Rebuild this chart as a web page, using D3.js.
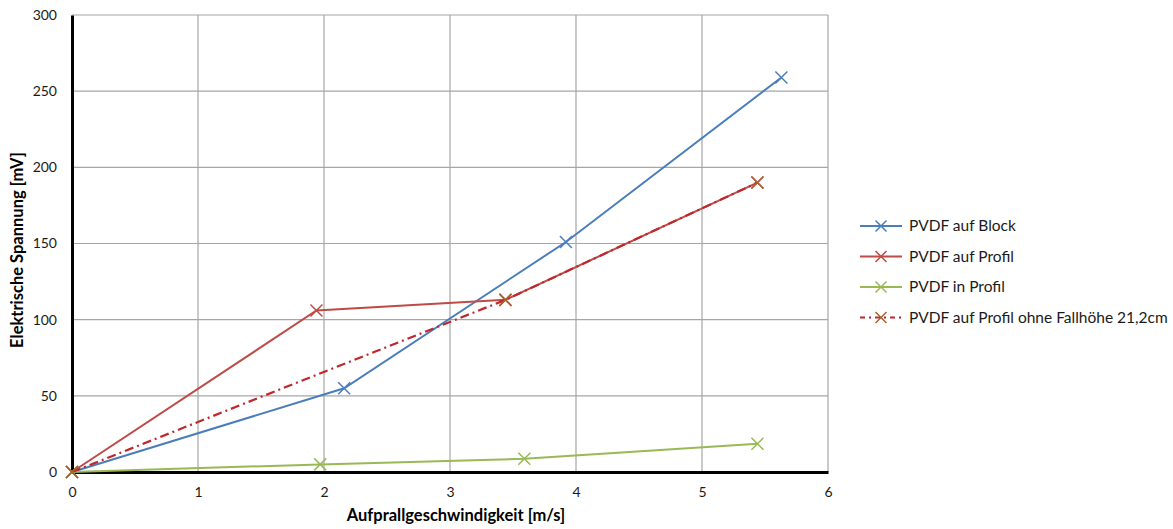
<!DOCTYPE html>
<html>
<head>
<meta charset="utf-8">
<script src="https://cdn.jsdelivr.net/npm/d3@7"></script>
<style>
  body { margin: 0; background: #fff; }
  svg text { font-family: Lato, "Open Sans", "Liberation Sans", sans-serif; }
</style>
</head>
<body>
<div id="chart"></div>
<script>
// chart values
const xTicks = [0, 1, 2, 3, 4, 5, 6];
const yTicks = [0, 50, 100, 150, 200, 250, 300];

const blockX = [0, 2.16, 3.92, 5.63];
const blockY = [0, 55, 151, 259];
const profilX = [0, 1.94, 3.44, 5.44];
const profilY = [0, 106, 113, 190];
const inProfilX = [0, 1.97, 3.59, 5.44];
const inProfilY = [0, 5, 8.7, 18.5];
const ohneX = [0, 3.44, 5.44];
const ohneY = [0, 113, 190];

const seriesNames = ['PVDF auf Block', 'PVDF auf Profil', 'PVDF in Profil', 'PVDF auf Profil ohne Fallhöhe 21,2cm'];

const series = [
  { name: seriesNames[0], xs: blockX, ys: blockY, color: '#4a7ebb', marker: '#4a7ebb', dash: null, width: 2 },
  { name: seriesNames[1], xs: profilX, ys: profilY, color: '#be4b48', marker: '#be4b48', dash: null, width: 2 },
  { name: seriesNames[2], xs: inProfilX, ys: inProfilY, color: '#98b954', marker: '#98b954', dash: null, width: 2 },
  { name: seriesNames[3], xs: ohneX, ys: ohneY, color: '#c0272d', marker: '#a8612a', dash: '9,4,2,4', width: 2.2 }
];

const W = 1173, H = 529;
const margin = { top: 15, left: 72, right: 345, bottom: 57 };
const width = W - margin.left - margin.right;
const height = H - margin.top - margin.bottom;

const svg = d3.select('#chart').append('svg')
  .attr('width', W).attr('height', H);

const g = svg.append('g')
  .attr('transform', `translate(${margin.left},${margin.top})`);

const x = d3.scaleLinear().domain([0, 6]).range([0, width]);
const y = d3.scaleLinear().domain([0, 300]).range([height, 0]);

// grid
g.append('g').selectAll('line').data(xTicks.slice(1)).enter().append('line')
  .attr('x1', d => x(d)).attr('x2', d => x(d))
  .attr('y1', 0).attr('y2', height)
  .attr('stroke', '#a6a6a6').attr('stroke-width', 1.2);
g.append('g').selectAll('line').data(yTicks.slice(1)).enter().append('line')
  .attr('x1', 0).attr('x2', width)
  .attr('y1', d => y(d)).attr('y2', d => y(d))
  .attr('stroke', '#a6a6a6').attr('stroke-width', 1.2);

// axes
const xAxis = g.append('g')
  .attr('transform', `translate(0,${height})`)
  .call(d3.axisBottom(x).tickValues(xTicks).tickFormat(d3.format('d')).tickSize(0).tickPadding(15));
const yAxis = g.append('g')
  .call(d3.axisLeft(y).tickValues(yTicks).tickFormat(d3.format('d')).tickSize(0).tickPadding(15));
[xAxis, yAxis].forEach(a => {
  a.select('.domain').attr('stroke', '#000').attr('stroke-width', 3);
  a.selectAll('text').attr('font-size', '14px').attr('fill', '#1a1a1a');
});

// lines
const line = d3.line().x(d => x(d[0])).y(d => y(d[1]));

function cross(sel, cx, cy, r, color) {
  sel.append('path')
    .attr('d', `M${cx - r},${cy - r}L${cx + r},${cy + r}M${cx - r},${cy + r}L${cx + r},${cy - r}`)
    .attr('stroke', color).attr('stroke-width', 1.5).attr('fill', 'none');
}

series.forEach(s => {
  const pts = s.xs.map((v, i) => [v, s.ys[i]]);
  g.append('path').datum(pts)
    .attr('d', line)
    .attr('fill', 'none')
    .attr('stroke', s.color)
    .attr('stroke-width', s.width)
    .attr('stroke-dasharray', s.dash);
  pts.forEach(p => cross(g, x(p[0]), y(p[1]), 6, s.marker));
});

// legend
const legend = svg.append('g').attr('transform', 'translate(860,226)');
series.forEach((s, i) => {
  const row = legend.append('g').attr('transform', `translate(0,${i * 30.5})`);
  row.append('line')
    .attr('x1', 0).attr('x2', 42).attr('y1', 0).attr('y2', 0)
    .attr('stroke', s.color).attr('stroke-width', 2)
    .attr('stroke-dasharray', s.dash ? '5,4,2,4' : null);
  cross(row, 21, 0, 5.5, s.marker);
  row.append('text')
    .attr('x', 49).attr('y', 0).attr('dy', '0.35em')
    .attr('font-size', '15.5px').attr('fill', '#1a1a1a')
    .text(s.name);
});

// axis titles
svg.append('text')
  .attr('x', 456).attr('y', 521)
  .attr('text-anchor', 'middle')
  .attr('font-size', '16.5px').attr('font-weight', 'bold')
  .text('Aufprallgeschwindigkeit [m/s]');
svg.append('text')
  .attr('transform', 'translate(23,250) rotate(-90)')
  .attr('text-anchor', 'middle')
  .attr('font-size', '16.5px').attr('font-weight', 'bold')
  .text('Elektrische Spannung [mV]');
</script>
</body>
</html>
